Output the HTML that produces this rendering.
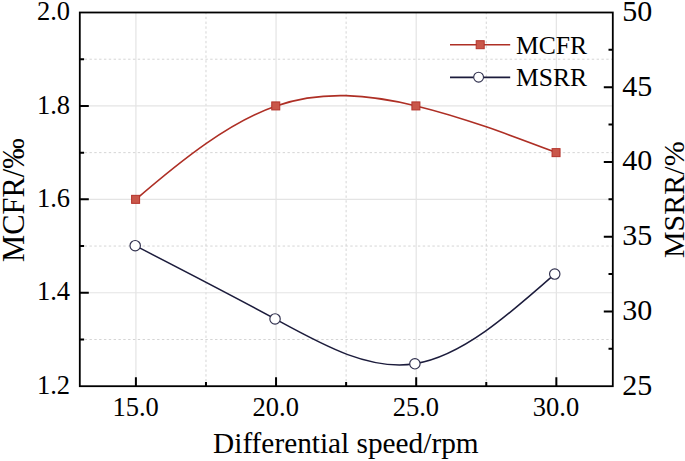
<!DOCTYPE html>
<html><head><meta charset="utf-8"><style>
html,body{margin:0;padding:0;background:#fff;}
svg{display:block;}
text{font-family:"Liberation Serif",serif;fill:#000;}
</style></head><body>
<svg width="685" height="461" viewBox="0 0 685 461">
<rect width="685" height="461" fill="#fff"/>
<line x1="135.90" y1="12.5" x2="135.90" y2="386.2" stroke="#e4e4e4" stroke-width="1.2"/>
<line x1="276.05" y1="12.5" x2="276.05" y2="386.2" stroke="#e4e4e4" stroke-width="1.2"/>
<line x1="416.20" y1="12.5" x2="416.20" y2="386.2" stroke="#e4e4e4" stroke-width="1.2"/>
<line x1="556.35" y1="12.5" x2="556.35" y2="386.2" stroke="#e4e4e4" stroke-width="1.2"/>
<line x1="205.98" y1="12.5" x2="205.98" y2="386.2" stroke="#d5d5d5" stroke-width="1" stroke-dasharray="2.4 2.43" stroke-dashoffset="0.6"/>
<line x1="346.12" y1="12.5" x2="346.12" y2="386.2" stroke="#d5d5d5" stroke-width="1" stroke-dasharray="2.4 2.43" stroke-dashoffset="0.6"/>
<line x1="486.27" y1="12.5" x2="486.27" y2="386.2" stroke="#d5d5d5" stroke-width="1" stroke-dasharray="2.4 2.43" stroke-dashoffset="0.6"/>
<line x1="79.8" y1="292.77" x2="612.8" y2="292.77" stroke="#e4e4e4" stroke-width="1.2"/>
<line x1="79.8" y1="199.35" x2="612.8" y2="199.35" stroke="#e4e4e4" stroke-width="1.2"/>
<line x1="79.8" y1="105.92" x2="612.8" y2="105.92" stroke="#e4e4e4" stroke-width="1.2"/>
<line x1="79.8" y1="339.49" x2="612.8" y2="339.49" stroke="#d5d5d5" stroke-width="1" stroke-dasharray="2.4 2.43"/>
<line x1="79.8" y1="246.06" x2="612.8" y2="246.06" stroke="#d5d5d5" stroke-width="1" stroke-dasharray="2.4 2.43"/>
<line x1="79.8" y1="152.64" x2="612.8" y2="152.64" stroke="#d5d5d5" stroke-width="1" stroke-dasharray="2.4 2.43"/>
<line x1="79.8" y1="59.21" x2="612.8" y2="59.21" stroke="#d5d5d5" stroke-width="1" stroke-dasharray="2.4 2.43"/>
<path d="M79.8,292.77h9M79.8,199.35h9M79.8,105.92h9M79.8,339.49h4.3M79.8,246.06h4.3M79.8,152.64h4.3M79.8,59.21h4.3M612.8,311.46h-9M612.8,236.72h-9M612.8,161.98h-9M612.8,87.24h-9M612.8,348.83h-4.3M612.8,274.09h-4.3M612.8,199.35h-4.3M612.8,124.61h-4.3M612.8,49.87h-4.3M135.90,386.2v-9M276.05,386.2v-9M416.20,386.2v-9M556.35,386.2v-9M205.98,386.2v-4.3M346.12,386.2v-4.3M486.27,386.2v-4.3" stroke="#000" stroke-width="2" fill="none"/>
<rect x="79.8" y="12.5" width="533.00" height="373.70" fill="none" stroke="#000" stroke-width="1.8"/>
<path d="M135.90,199.35 C182.62,159.13 229.33,122.04 276.05,105.92 C322.77,89.81 369.48,94.65 416.20,105.92 C462.92,117.20 509.63,134.92 556.35,152.64" fill="none" stroke="#ae2f25" stroke-width="1.6"/>
<path d="M135.20,245.69 C181.82,269.64 228.43,293.59 275.05,318.93 C321.67,344.28 368.28,371.02 414.90,363.78 C461.52,356.54 508.13,315.31 554.75,274.09" fill="none" stroke="#1c1c3c" stroke-width="1.5"/>
<rect x="131.60" y="195.35" width="8" height="8" fill="#c9574a" stroke="#b3322a" stroke-width="1"/>
<rect x="271.75" y="101.92" width="8" height="8" fill="#c9574a" stroke="#b3322a" stroke-width="1"/>
<rect x="411.90" y="101.92" width="8" height="8" fill="#c9574a" stroke="#b3322a" stroke-width="1"/>
<rect x="552.05" y="148.64" width="8" height="8" fill="#c9574a" stroke="#b3322a" stroke-width="1"/>
<circle cx="135.20" cy="245.69" r="5.2" fill="#fff" stroke="#30304e" stroke-width="1.15"/>
<circle cx="275.05" cy="318.93" r="5.2" fill="#fff" stroke="#30304e" stroke-width="1.15"/>
<circle cx="414.90" cy="363.78" r="5.2" fill="#fff" stroke="#30304e" stroke-width="1.15"/>
<circle cx="554.75" cy="274.09" r="5.2" fill="#fff" stroke="#30304e" stroke-width="1.15"/>
<line x1="450" y1="44.8" x2="510.2" y2="44.8" stroke="#ae2f25" stroke-width="1.6"/>
<rect x="476.2" y="40.7" width="8" height="8" fill="#c9574a" stroke="#b3322a" stroke-width="1"/>
<line x1="450" y1="77.4" x2="510.2" y2="77.4" stroke="#1c1c3c" stroke-width="1.6"/>
<circle cx="478.6" cy="77.2" r="4.9" fill="#fff" stroke="#30304e" stroke-width="1.1"/>
<text x="70.0" y="393.80" text-anchor="end" font-size="26.5">1.2</text>
<text x="70.0" y="300.38" text-anchor="end" font-size="26.5">1.4</text>
<text x="70.0" y="206.95" text-anchor="end" font-size="26.5">1.6</text>
<text x="70.0" y="113.52" text-anchor="end" font-size="26.5">1.8</text>
<text x="70.0" y="20.10" text-anchor="end" font-size="26.5">2.0</text>
<text x="622.2" y="394.63" font-size="30">25</text>
<text x="622.2" y="319.89" font-size="30">30</text>
<text x="622.2" y="245.15" font-size="30">35</text>
<text x="622.2" y="170.41" font-size="30">40</text>
<text x="622.2" y="95.67" font-size="30">45</text>
<text x="622.2" y="20.93" font-size="30">50</text>
<text x="135.60" y="415.55" text-anchor="middle" font-size="26.5">15.0</text>
<text x="275.75" y="415.55" text-anchor="middle" font-size="26.5">20.0</text>
<text x="415.90" y="415.55" text-anchor="middle" font-size="26.5">25.0</text>
<text x="556.05" y="415.55" text-anchor="middle" font-size="26.5">30.0</text>
<text x="345.85" y="452.9" text-anchor="middle" font-size="29.3">Differential speed/rpm</text>
<text transform="translate(24.3,200.1) rotate(-90)" text-anchor="middle" font-size="30.5">MCFR/‰</text>
<text transform="translate(683.6,199.7) rotate(-90)" text-anchor="middle" font-size="30">MSRR/%</text>
<text x="516" y="53.8" font-size="25.6">MCFR</text>
<text x="516" y="86.0" font-size="25.6">MSRR</text>
</svg>
</body></html>
